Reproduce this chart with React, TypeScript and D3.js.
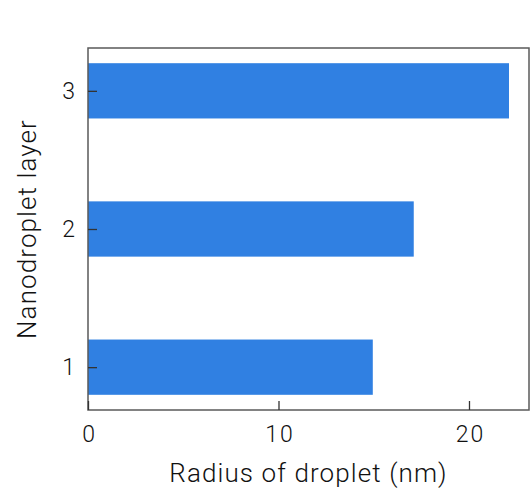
import React, { useEffect, useRef } from 'react';
import * as d3 from 'd3';

const layers = [1, 2, 3];
const radii = [14.95, 17.1, 22.1];
const xTicks = [0, 10, 20];

const W = 532;
const H = 495;
const FONT = 'Roboto, sans-serif';

export default function App() {
  const svgRef = useRef<SVGSVGElement>(null);

  useEffect(() => {
    if (!svgRef.current) return;
    const svg = d3.select(svgRef.current);
    svg.selectAll('*').remove();

    const margin = { top: 48, right: 3, bottom: 85, left: 88 };
    const x = d3.scaleLinear().domain([0, 23.15]).range([margin.left, W - margin.right]);
    const y = d3.scaleLinear().domain([0.69, 3.31]).range([H - margin.bottom, margin.top]);
    const barH = y(0) - y(0.4);

    // bars
    svg.append('g')
      .selectAll('rect')
      .data(layers)
      .enter()
      .append('rect')
      .attr('x', x(0))
      .attr('y', (d) => y(d) - barH / 2)
      .attr('width', (d, i) => x(radii[i]) - x(0))
      .attr('height', barH)
      .attr('fill', '#3080e2');

    // frame
    svg.append('rect')
      .attr('x', x(0))
      .attr('y', margin.top)
      .attr('width', x.range()[1] - x(0))
      .attr('height', H - margin.bottom - margin.top)
      .attr('fill', 'none')
      .attr('stroke', '#5a5a5a')
      .attr('stroke-width', 1.5);

    // x axis
    const xAxis = svg.append('g')
      .attr('transform', `translate(0,${H - margin.bottom})`)
      .call(d3.axisBottom(x).tickValues(xTicks).tickSizeInner(-9).tickSizeOuter(0).tickPadding(16));
    xAxis.select('.domain').remove();
    xAxis.selectAll('line').attr('stroke', '#333').attr('stroke-width', 1.3);
    xAxis.selectAll('text')
      .attr('font-family', FONT)
      .attr('font-weight', 300)
      .attr('font-size', 23)
      .attr('letter-spacing', 2)
      .attr('dx', 1)
      .attr('fill', '#111');

    // y axis
    const yAxis = svg.append('g')
      .attr('transform', `translate(${margin.left},0)`)
      .call(d3.axisLeft(y).tickValues(layers).tickFormat(d3.format('d')).tickSizeInner(-9).tickSizeOuter(0).tickPadding(13));
    yAxis.select('.domain').remove();
    yAxis.selectAll('line').attr('stroke', '#333').attr('stroke-width', 1.3);
    yAxis.selectAll('text')
      .attr('font-family', FONT)
      .attr('font-weight', 300)
      .attr('font-size', 23)
      .attr('fill', '#111');

    // axis titles
    svg.append('text')
      .attr('x', (x.range()[0] + x.range()[1]) / 2)
      .attr('y', 482)
      .attr('text-anchor', 'middle')
      .attr('font-family', FONT)
      .attr('font-weight', 300)
      .attr('font-size', 26)
      .attr('letter-spacing', 1.1)
      .attr('fill', '#111')
      .text('Radius of droplet (nm)');

    svg.append('text')
      .attr('transform', `translate(36,${(y.range()[0] + y.range()[1]) / 2}) rotate(-90)`)
      .attr('text-anchor', 'middle')
      .attr('font-family', FONT)
      .attr('font-weight', 300)
      .attr('font-size', 26)
      .attr('letter-spacing', 1.1)
      .attr('fill', '#111')
      .text('Nanodroplet layer');
  }, []);

  return (
    <svg
      ref={svgRef}
      width={W}
      height={H}
      style={{ position: 'absolute', left: 0, top: 0, background: '#fff' }}
    />
  );
}
